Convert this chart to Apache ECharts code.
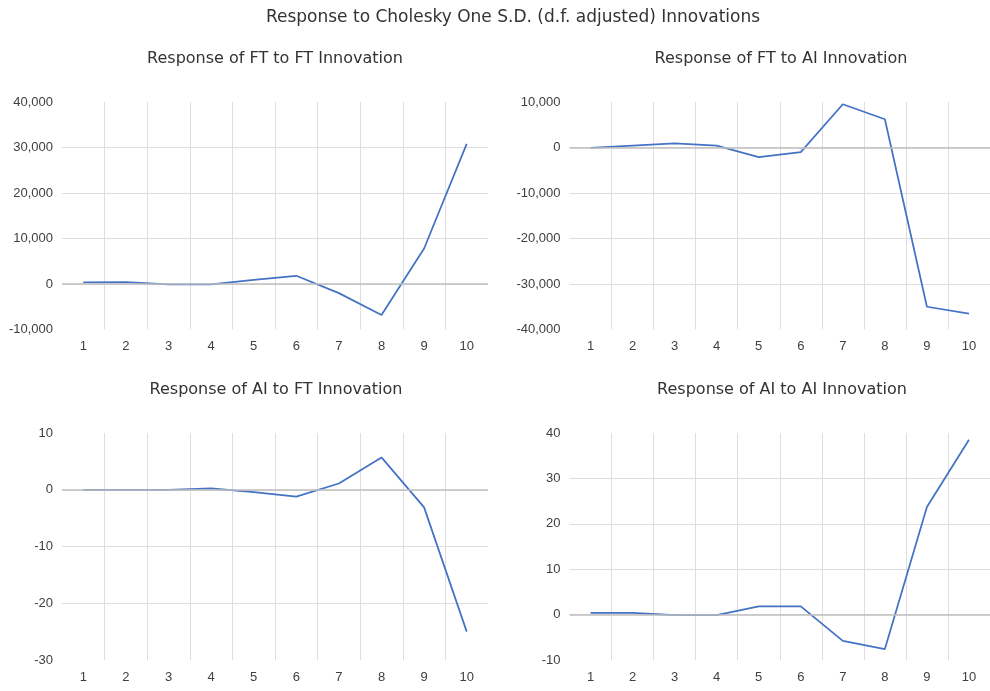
<!DOCTYPE html>
<html>
<head>
<meta charset="utf-8">
<script src="https://cdn.jsdelivr.net/npm/echarts@6/dist/echarts.min.js"></script>
<style>html,body{margin:0;padding:0;background:#fff}#c{width:990px;height:691px}</style>
</head>
<body>
<div id="c"></div>
<script>
const periods = ['1','2','3','4','5','6','7','8','9','10'];
const ftToFt = [350, 400, -100, -100, 900, 1800, -2000, -6800, 7800, 30800];
const ftToAi = [-100, 400, 900, 400, -2100, -1000, 9500, 6200, -35000, -36500];
const aiToFt = [0, 0, 0, 0.25, -0.4, -1.2, 1.1, 5.7, -3.1, -25.0];
const aiToAi = [0.4, 0.4, -0.1, -0.1, 1.8, 1.8, -5.8, -7.6, 23.7, 38.5];
const yRanges = [[-10000, 40000, 10000], [-40000, 10000, 10000], [-30, 10, 10], [-10, 40, 10]];
const titles = ['Response of FT to FT Innovation', 'Response of FT to AI Innovation',
                'Response of AI to FT Innovation', 'Response of AI to AI Innovation'];
const mainTitle = 'Response to Cholesky One S.D. (d.f. adjusted) Innovations';
const seriesData = [ftToFt, ftToAi, aiToFt, aiToAi];

const FONT = 'Liberation Sans';
const TFONT = 'DejaVu Sans';
const TXT = '#404040';
const grids = [
  {left: 62, top: 102, width: 426, height: 227.5},
  {left: 569.5, top: 102, width: 423, height: 227.5},
  {left: 62, top: 433, width: 426, height: 227},
  {left: 569.5, top: 433, width: 423, height: 227}
];
const titleOpts = [{text: mainTitle, left: 508, top: 4, textAlign: 'center',
  textStyle: {fontSize: 17, fontWeight: 'normal', color: '#333', fontFamily: TFONT}}];
const subPos = [[270, 46], [776, 46], [271, 377], [777, 377]];
titles.forEach((t, i) => titleOpts.push({text: t, left: subPos[i][0], top: subPos[i][1], textAlign: 'center',
  textStyle: {fontSize: 16, fontWeight: 'normal', color: '#333', fontFamily: TFONT}}));

const fmt = v => v.toLocaleString('en-US');
const option = {
  animation: false,
  title: titleOpts,
  grid: grids,
  xAxis: grids.map((g, i) => ({
    type: 'category', gridIndex: i, data: periods, boundaryGap: true,
    axisLine: {show: false, onZero: false}, axisTick: {show: false},
    axisLabel: {color: TXT, fontSize: 13, fontFamily: FONT, margin: i < 2 ? 10 : 11},
    splitLine: {show: true, showMinLine: false, showMaxLine: false, lineStyle: {color: '#dedede', width: 1}}
  })),
  yAxis: grids.map((g, i) => ({
    type: 'value', gridIndex: i, min: yRanges[i][0], max: yRanges[i][1], interval: yRanges[i][2],
    axisLine: {show: false}, axisTick: {show: false},
    axisLabel: {color: TXT, fontSize: 13, fontFamily: FONT, margin: 9, formatter: fmt},
    splitLine: {show: true, showMinLine: false, showMaxLine: false, lineStyle: {color: '#dedede', width: 1}}
  })),
  series: seriesData.map((d, i) => ({
    type: 'line', xAxisIndex: i, yAxisIndex: i, data: d, symbol: 'none',
    lineStyle: {color: '#4472C4', width: 1.75},
    markLine: {silent: true, symbol: 'none', label: {show: false},
      lineStyle: {color: '#bfbfbf', type: 'solid', width: 1.5}, data: [{yAxis: 0}]},
    z: 3
  }))
};
const chart = echarts.init(document.getElementById('c'), null, {renderer: 'canvas'});
chart.setOption(option);
</script>
</body>
</html>
